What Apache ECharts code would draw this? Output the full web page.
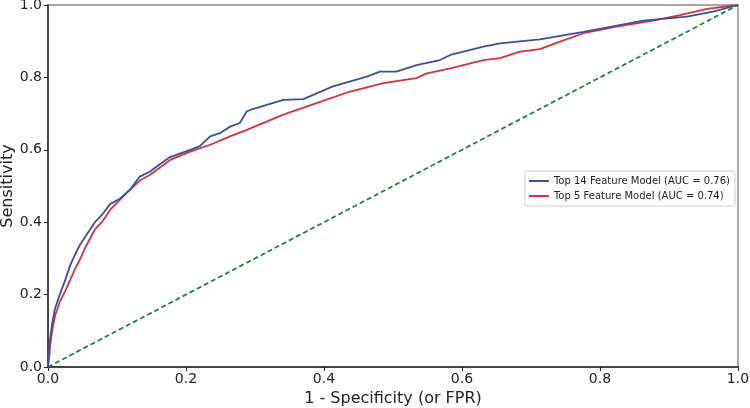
<!DOCTYPE html>
<html><head><meta charset="utf-8">
<script src="https://cdn.jsdelivr.net/npm/echarts@6/dist/echarts.min.js"></script>
<style>html,body{margin:0;padding:0;background:#fff}#c{width:750px;height:408px}</style>
</head><body><div id="c"></div>
<script>
const xTicks = [0, 0.2, 0.4, 0.6, 0.8, 1.0];
const yTicks = [0, 0.2, 0.4, 0.6, 0.8, 1.0];
const seriesNames = ['Top 14 Feature Model (AUC = 0.76)', 'Top 5 Feature Model (AUC = 0.74)'];
const fpr14 = [0,0.001,0.003,0.006,0.01,0.017,0.025,0.032,0.039,0.047,0.054,0.061,0.068,0.078,0.09,0.104,0.119,0.133,0.148,0.162,0.177,0.206,0.22,0.235,0.249,0.264,0.278,0.288,0.293,0.341,0.37,0.413,0.462,0.481,0.505,0.534,0.568,0.583,0.631,0.655,0.713,0.776,0.863,0.926,0.964,1];
const tpr14 = [0,0.04,0.076,0.12,0.16,0.2,0.24,0.28,0.31,0.34,0.36,0.38,0.40,0.42,0.45,0.465,0.49,0.526,0.54,0.56,0.58,0.60,0.61,0.637,0.646,0.664,0.674,0.706,0.71,0.738,0.74,0.775,0.802,0.816,0.816,0.834,0.848,0.862,0.885,0.894,0.905,0.926,0.957,0.968,0.982,1];
const fpr5 = [0,0.002,0.003,0.006,0.01,0.017,0.025,0.032,0.039,0.047,0.054,0.061,0.068,0.078,0.09,0.104,0.119,0.133,0.148,0.177,0.206,0.235,0.264,0.288,0.341,0.389,0.438,0.486,0.534,0.549,0.583,0.631,0.655,0.684,0.713,0.742,0.776,0.824,0.877,0.916,0.955,1];
const tpr5 = [0,0.03,0.057,0.1,0.14,0.18,0.21,0.24,0.27,0.30,0.33,0.355,0.38,0.40,0.434,0.462,0.49,0.515,0.531,0.572,0.595,0.614,0.637,0.655,0.697,0.729,0.761,0.784,0.798,0.811,0.825,0.848,0.853,0.871,0.878,0.899,0.922,0.94,0.957,0.972,0.989,1];
const diagX = [0, 1];
const diagY = [0, 1];

const zip = (a, b) => a.map((v, i) => [v, b[i]]);
const font = 'DejaVu Sans';
const chart = echarts.init(document.getElementById('c'), null, {renderer: 'canvas'});
chart.setOption({
  animation: false,
  backgroundColor: '#fff',
  grid: {left: 48, right: 12, top: 5, bottom: 41, containLabel: false, outerBoundsMode: 'none',
         show: true, borderColor: '#8a8a8a', borderWidth: 1.5, backgroundColor: 'transparent'},
  legend: {
    data: seriesNames, orient: 'vertical', right: 15, top: 171,
    icon: 'rect', itemWidth: 20, itemHeight: 2, itemGap: 5,
    borderColor: '#d0d0d0', borderWidth: 1, borderRadius: 2, padding: [5, 5, 5, 4],
    textStyle: {fontFamily: font, fontSize: 10, color: '#222', padding: [0, 0, 0, 0]}
  },
  xAxis: {
    type: 'value', min: 0, max: 1, interval: 0.2,
    name: '1 - Specificity (or FPR)', nameLocation: 'middle', nameGap: 24, nameMoveOverlap: false,
    nameTextStyle: {fontFamily: font, fontSize: 16, color: '#222'},
    axisLine: {show: true, lineStyle: {color: '#222', width: 1.5}},
    axisTick: {show: true, length: 4, lineStyle: {color: '#222'}},
    axisLabel: {fontFamily: font, fontSize: 14, color: '#222', margin: 5, formatter: v => v.toFixed(1)},
    splitLine: {show: false}
  },
  yAxis: {
    type: 'value', min: 0, max: 1, interval: 0.2,
    name: 'Sensitivity', nameLocation: 'middle', nameGap: 32, nameMoveOverlap: false,
    nameTextStyle: {fontFamily: font, fontSize: 16, color: '#222'},
    axisLine: {show: true, lineStyle: {color: '#222', width: 1.5}},
    axisTick: {show: true, length: 4, lineStyle: {color: '#222'}},
    axisLabel: {fontFamily: font, fontSize: 14, color: '#222', margin: 6, formatter: v => v.toFixed(1)},
    splitLine: {show: false}
  },
  series: [
    {name: 'diag', type: 'line', data: zip(diagX, diagY), showSymbol: false, silent: true,
     lineStyle: {color: '#1f8246', width: 1.8, type: [5, 3]}, z: 1},
    {name: seriesNames[0], type: 'line', data: zip(fpr14, tpr14), showSymbol: false,
     lineStyle: {color: '#3b4f9a', width: 1.8}, itemStyle: {color: '#3b4f9a'}, z: 3},
    {name: seriesNames[1], type: 'line', data: zip(fpr5, tpr5), showSymbol: false,
     lineStyle: {color: '#d8313b', width: 1.8}, itemStyle: {color: '#d8313b'}, z: 2}
  ]
});
</script></body></html>
